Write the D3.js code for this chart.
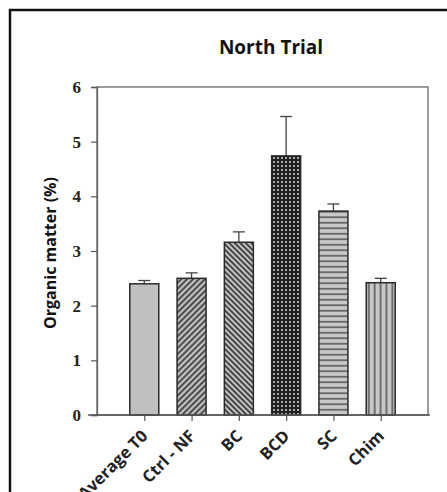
<!DOCTYPE html>
<html>
<head>
<meta charset="utf-8">
<script src="https://cdn.jsdelivr.net/npm/d3@7"></script>
<style>
  body { margin: 0; background: #fff; }
</style>
</head>
<body>
<div class="chart"></div>
<script>
// values
const categories = ["Average T0", "Ctrl - NF", "BC", "BCD", "SC", "Chim"];
const means = [2.40, 2.50, 3.16, 4.74, 3.73, 2.42];
const errors = [0.06, 0.10, 0.19, 0.72, 0.13, 0.08];
const yTicks = [0, 1, 2, 3, 4, 5, 6];
const fills = ["solid", "fwd", "back", "dots", "horiz", "vert"];

const width = 447, height = 492;
const margin = ({top: 87, right: 19, bottom: 77, left: 97});

const svg = d3.select(".chart")
  .append("svg")
  .attr("width", width)
  .attr("height", height);

// outer frame of the figure
svg.append("rect")
  .attr("x", 10).attr("y", 10)
  .attr("width", 460).attr("height", 500)
  .attr("fill", "none")
  .attr("stroke", "#111")
  .attr("stroke-width", 2.5);

const defs = svg.append("defs");

function stripes(id, angle, size, bg, fg, lw) {
  const p = defs.append("pattern")
    .attr("id", id)
    .attr("patternUnits", "userSpaceOnUse")
    .attr("width", size).attr("height", size)
    .attr("patternTransform", `rotate(${angle})`);
  p.append("rect").attr("width", size).attr("height", size).attr("fill", bg);
  p.append("line")
    .attr("x1", size / 2).attr("x2", size / 2)
    .attr("y1", 0).attr("y2", size)
    .attr("stroke", fg).attr("stroke-width", lw);
}
stripes("fwd", 45, 4.2, "#c4c4c4", "#3a3a3a", 1.8);
stripes("back", -45, 3.9, "#c4c4c4", "#3a3a3a", 1.8);
stripes("horiz", 90, 5.5, "#c8c8c8", "#404040", 1.3);
stripes("vert", 0, 5.9, "#c8c8c8", "#404040", 1.3);

const dots = defs.append("pattern")
  .attr("id", "dots")
  .attr("patternUnits", "userSpaceOnUse")
  .attr("width", 4).attr("height", 4);
dots.append("rect").attr("width", 4).attr("height", 4).attr("fill", "#202020");
dots.append("circle").attr("cx", 2).attr("cy", 2).attr("r", 1).attr("fill", "#d8d8d8");

const x = d3.scalePoint()
  .domain(categories)
  .range([margin.left, width - margin.right])
  .padding(1);

const y = d3.scaleLinear()
  .domain([0, 6])
  .range([height - margin.bottom, margin.top]);

const barW = 29;

// plot box
svg.append("rect")
  .attr("x", margin.left).attr("y", margin.top)
  .attr("width", width - margin.right - margin.left)
  .attr("height", height - margin.bottom - margin.top)
  .attr("fill", "none")
  .attr("stroke", "#666")
  .attr("stroke-width", 1.3);

// error bars (upper only)
const err = svg.append("g")
  .attr("stroke", "#444")
  .attr("stroke-width", 1.3);
err.selectAll("line.stem")
  .data(categories)
  .join("line")
  .attr("class", "stem")
  .attr("x1", d => x(d)).attr("x2", d => x(d))
  .attr("y1", (d, i) => y(means[i]))
  .attr("y2", (d, i) => y(means[i] + errors[i]));
err.selectAll("line.cap")
  .data(categories)
  .join("line")
  .attr("class", "cap")
  .attr("x1", d => x(d) - 6).attr("x2", d => x(d) + 6)
  .attr("y1", (d, i) => y(means[i] + errors[i]))
  .attr("y2", (d, i) => y(means[i] + errors[i]));

svg.append("g")
  .selectAll("rect")
  .data(categories)
  .join("rect")
  .attr("x", d => x(d) - barW / 2)
  .attr("y", (d, i) => y(means[i]))
  .attr("width", barW)
  .attr("height", (d, i) => y(0) - y(means[i]))
  .attr("fill", (d, i) => fills[i] === "solid" ? "#c0c0c0" : `url(#${fills[i]})`)
  .attr("stroke", "#2a2a2a")
  .attr("stroke-width", 1.5);

const yAxis = d3.axisLeft(y)
  .tickValues(yTicks)
  .tickFormat(d3.format("d"))
  .tickSize(6)
  .tickPadding(10);

svg.append("g")
  .attr("transform", `translate(${margin.left},0)`)
  .call(yAxis)
  .call(g => g.select(".domain").attr("stroke", "#666").attr("stroke-width", 1.3))
  .call(g => g.selectAll(".tick line").attr("stroke", "#555").attr("stroke-width", 1.2))
  .call(g => g.selectAll(".tick text")
    .attr("font-family", "'Liberation Serif', serif")
    .attr("font-weight", "bold")
    .attr("font-size", 17)
    .attr("fill", "#222"));

const xAxis = d3.axisBottom(x)
  .tickSize(6)
  .tickSizeOuter(0);

svg.append("g")
  .attr("transform", `translate(0,${height - margin.bottom})`)
  .call(xAxis)
  .call(g => g.select(".domain").attr("d", `M${margin.left - 9},0H${width - margin.right + 2}`)
    .attr("stroke", "#555").attr("stroke-width", 1.4))
  .call(g => g.selectAll(".tick line").attr("stroke", "#555").attr("stroke-width", 1.2))
  .call(g => g.selectAll(".tick text")
    .attr("font-family", "'Open Sans', sans-serif")
    .attr("font-weight", "bold")
    .attr("font-size", 16.5)
    .attr("fill", "#222")
    .attr("text-anchor", "end")
    .attr("y", 0)
    .attr("dy", 0)
    .attr("transform", "translate(4,22) rotate(-45)"));

svg.append("text")
  .attr("x", 271)
  .attr("y", 54)
  .attr("text-anchor", "middle")
  .attr("font-family", "'Open Sans', sans-serif")
  .attr("font-weight", "bold")
  .attr("font-size", 19)
  .attr("fill", "#111")
  .text("North Trial");

svg.append("text")
  .attr("transform", `translate(56,${(y(0) + y(6)) / 2 + 2}) rotate(-90)`)
  .attr("text-anchor", "middle")
  .attr("font-family", "'Open Sans', sans-serif")
  .attr("font-weight", "bold")
  .attr("font-size", 16)
  .attr("fill", "#111")
  .text("Organic matter (%)");
</script>
</body>
</html>
